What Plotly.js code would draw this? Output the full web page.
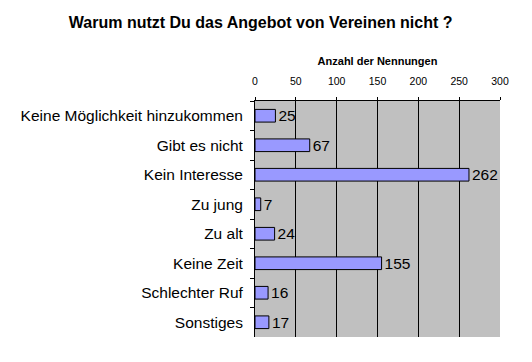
<!DOCTYPE html>
<html><head><meta charset="utf-8">
<script src="https://cdn.plot.ly/plotly-3.0.1.min.js"></script>
<style>html,body{margin:0;padding:0;background:#fff}</style>
</head><body>
<div id="chart" style="width:532px;height:362px"></div>
<script>
const categories = ["Keine Möglichkeit hinzukommen","Gibt es nicht","Kein Interesse","Zu jung","Zu alt","Keine Zeit","Schlechter Ruf","Sonstiges"];
const values = [25, 67, 262, 7, 24, 155, 16, 17];
const xTicks = [0, 50, 100, 150, 200, 250, 300];

const trace = {
  type: 'bar', orientation: 'h',
  y: categories, x: values,
  text: values.map(String), textposition: 'outside',
  constraintext: 'none',
  cliponaxis: false,
  textfont: {family: 'Liberation Sans, Arial, sans-serif', size: 15.5, color: '#000'},
  marker: {color: '#9999FF', line: {color: '#000', width: 1}},
  hoverinfo: 'none'
};
const layout = {
  width: 532, height: 362,
  margin: {l: 255, r: 32, t: 101, b: 25},
  paper_bgcolor: '#fff', plot_bgcolor: '#C0C0C0',
  bargap: 0.57,
  showlegend: false,
  font: {family: 'Liberation Sans, Arial, sans-serif', color: '#000'},
  title: {text: '<b>Warum nutzt Du das Angebot von Vereinen nicht ?</b>', font: {size: 16}, x: 0.49, xanchor: 'center', y: 0.937, yanchor: 'middle'},
  xaxis: {
    side: 'top', range: [0, 300], tickvals: xTicks, ticktext: xTicks.map(String),
    showgrid: true, gridcolor: '#000', gridwidth: 1,
    ticks: 'outside', ticklen: 3, tickcolor: '#000',
    showline: true, linecolor: '#000', linewidth: 1,
    zeroline: false, fixedrange: true,
    tickfont: {size: 10.5}, ticklabelstandoff: 8,
    title: {text: '<b>Anzahl der Nennungen</b>', font: {size: 11}, standoff: 6}
  },
  yaxis: {
    autorange: 'reversed', type: 'category',
    showline: true, linecolor: '#000', linewidth: 1,
    ticks: 'outside', ticklen: 4, tickcolor: '#000', tickson: 'boundaries',
    showgrid: false, zeroline: false,
    tickfont: {size: 15.5}, ticklabelstandoff: 8, fixedrange: true
  }
};
Plotly.newPlot('chart', [trace], layout, {staticPlot: true, displayModeBar: false});
</script>
</body></html>
